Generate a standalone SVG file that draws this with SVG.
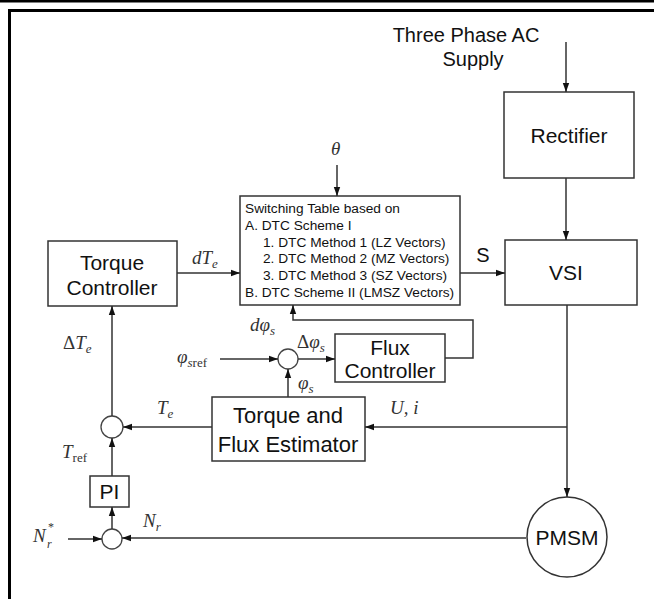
<svg xmlns="http://www.w3.org/2000/svg" width="654" height="599" viewBox="0 0 654 599">
<defs>
<style>
.box{fill:#fff;stroke:#333;stroke-width:1.5}
.sum{fill:#fff;stroke:#444;stroke-width:1.3}
.ln{fill:none;stroke:#333;stroke-width:1.5}
.t{font-family:"Liberation Sans",Arial,sans-serif;font-size:21px;fill:#111;text-anchor:middle}
.s{font-family:"Liberation Sans",Arial,sans-serif;font-size:13.7px;fill:#111}
.m{font-family:"Liberation Serif","Times New Roman",serif;font-size:19px;font-style:italic;fill:#333}
.up{font-style:normal}
.sb{font-size:13px}
</style>
<marker id="ah" markerWidth="10" markerHeight="8" refX="9" refY="4" orient="auto" markerUnits="userSpaceOnUse">
<path d="M0,0.8 L9,4 L0,7.2 Z" fill="#111"/>
</marker>
</defs>
<rect width="654" height="599" fill="#fff"/>
<g id="frame">
<rect x="0" y="0" width="654" height="2.5" fill="#000"/>
<path d="M9.5,599 V10.5 H654" fill="none" stroke="#000" stroke-width="3"/>
</g>
<g id="supply">
<text class="t" x="466" y="42" style="font-size:20px">Three Phase AC</text>
<text class="t" x="473" y="66" style="font-size:20px">Supply</text>
</g>
<g id="rectifier">
<rect class="box" x="504" y="92" width="130" height="86"/>
<text class="t" x="569" y="143">Rectifier</text>
</g>
<g id="vsi">
<rect class="box" x="505" y="240" width="132" height="65"/>
<text class="t" x="566" y="280">VSI</text>
</g>
<g id="switching-table">
<rect class="box" x="240" y="196" width="220" height="109"/>
<text class="s" x="245" y="213">Switching Table based on</text>
<text class="s" x="245" y="230">A. DTC Scheme I</text>
<text class="s" x="263" y="247">1. DTC Method 1 (LZ Vectors)</text>
<text class="s" x="263" y="263">2. DTC Method 2 (MZ Vectors)</text>
<text class="s" x="263" y="280">3. DTC Method 3 (SZ Vectors)</text>
<text class="s" x="245" y="297">B. DTC Scheme II (LMSZ Vectors)</text>
</g>
<g id="torque-controller">
<rect class="box" x="48" y="241" width="129" height="65"/>
<text class="t" x="112" y="270">Torque</text>
<text class="t" x="112" y="295">Controller</text>
</g>
<g id="flux-controller">
<rect class="box" x="335" y="334" width="110" height="48"/>
<text class="t" x="390" y="355">Flux</text>
<text class="t" x="390" y="378">Controller</text>
</g>
<g id="estimator">
<rect class="box" x="212" y="397" width="153" height="64"/>
<text class="t" x="288" y="423" style="font-size:22px">Torque and</text>
<text class="t" x="288" y="452" style="font-size:22px">Flux Estimator</text>
</g>
<g id="pi">
<rect class="box" x="90" y="476" width="39" height="31"/>
<text class="t" x="109.5" y="499">PI</text>
</g>
<g id="pmsm">
<circle class="box" cx="567" cy="537" r="40"/>
<text class="t" x="567" y="545">PMSM</text>
</g>
<g id="sum-flux"><circle class="sum" cx="288" cy="359" r="10"/></g>
<g id="sum-torque"><circle class="sum" cx="112" cy="427" r="11"/></g>
<g id="sum-speed"><circle class="sum" cx="112" cy="539" r="10"/></g>
<g id="connectors">
<path class="ln" d="M566,42 V92" marker-end="url(#ah)"/>
<path class="ln" d="M566,178 V240" marker-end="url(#ah)"/>
<path class="ln" d="M337,165 V196" marker-end="url(#ah)"/>
<path class="ln" d="M177,273 H240" marker-end="url(#ah)"/>
<path class="ln" d="M460,273 H505" marker-end="url(#ah)"/>
<path class="ln" d="M567,305 V497" marker-end="url(#ah)"/>
<path class="ln" d="M567,427 H365" marker-end="url(#ah)"/>
<path class="ln" d="M212,427 H123" marker-end="url(#ah)"/>
<path class="ln" d="M298,359 H335" marker-end="url(#ah)"/>
<path class="ln" d="M220,359 H278" marker-end="url(#ah)"/>
<path class="ln" d="M288,397 V369" marker-end="url(#ah)"/>
<path class="ln" d="M445,358 H473 V320 H293 V305" marker-end="url(#ah)"/>
<path class="ln" d="M112,416 V306" marker-end="url(#ah)"/>
<path class="ln" d="M112,476 V438" marker-end="url(#ah)"/>
<path class="ln" d="M112,529 V507" marker-end="url(#ah)"/>
<path class="ln" d="M68,539 H102" marker-end="url(#ah)"/>
<path class="ln" d="M526,538 H122" marker-end="url(#ah)"/>
</g>
<g id="labels">
<text class="m" x="331" y="155">θ</text>
<text class="t" x="483" y="262" style="font-size:20px">S</text>
<text class="m" x="192" y="264">dT<tspan class="sb" dy="4">e</tspan></text>
<text class="m" x="63" y="349"><tspan class="up">Δ</tspan>T<tspan class="sb" dy="4">e</tspan></text>
<text class="m" x="177" y="363">φ<tspan class="sb" dy="4">s</tspan><tspan class="sb up">ref</tspan></text>
<text class="m" x="250" y="331">dφ<tspan class="sb" dy="4">s</tspan></text>
<text class="m" x="297" y="348"><tspan class="up">Δ</tspan>φ<tspan class="sb" dy="4">s</tspan></text>
<text class="m" x="298" y="389">φ<tspan class="sb" dy="4">s</tspan></text>
<text class="m" x="157" y="414">T<tspan class="sb" dy="4">e</tspan></text>
<text class="m" x="390" y="414">U, i</text>
<text class="m" x="62" y="458">T<tspan class="sb up" dy="4">ref</tspan></text>
<text class="m" x="33" y="542">N</text>
<text class="m" x="47" y="548" style="font-size:12px">r</text>
<text class="m up" x="48" y="531" style="font-size:12px">*</text>
<text class="m" x="143" y="527">N<tspan class="sb" dy="4">r</tspan></text>
</g>
</svg>
